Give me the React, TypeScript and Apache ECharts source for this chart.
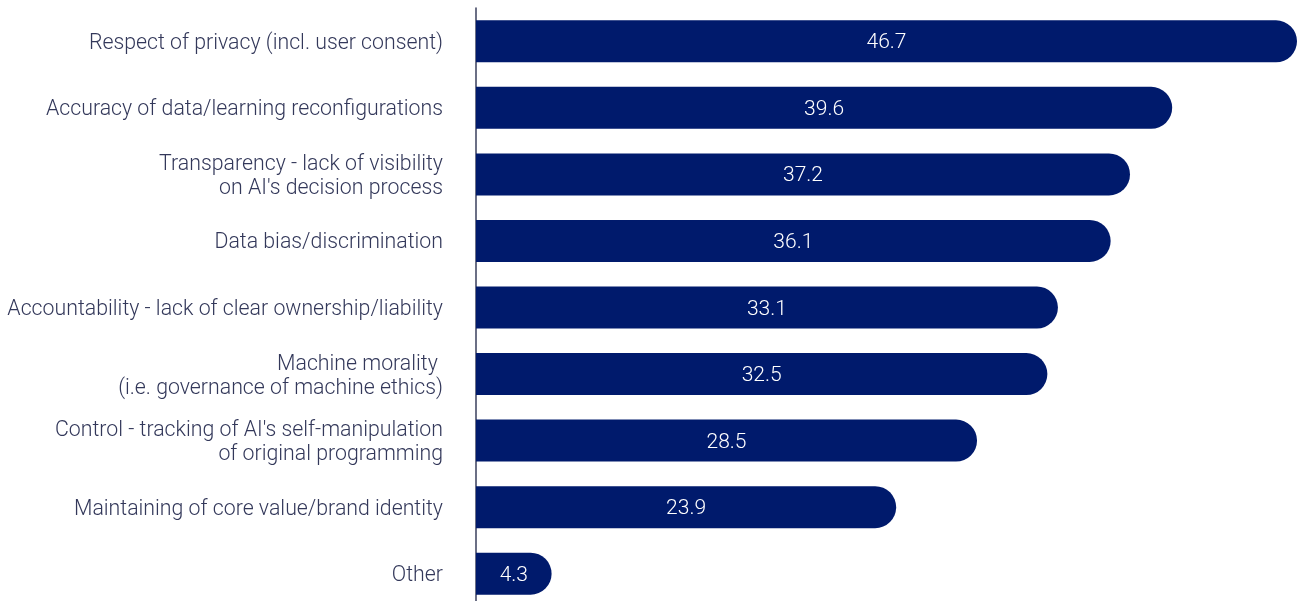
import React, { useEffect, useRef } from "react";
import * as echarts from "echarts";

const categories = [
  "Respect of privacy (incl. user consent)",
  "Accuracy of data/learning reconfigurations",
  "Transparency - lack of visibility\non AI's decision process",
  "Data bias/discrimination",
  "Accountability - lack of clear ownership/liability",
  "Machine morality \n(i.e. governance of machine ethics)",
  "Control - tracking of AI's self-manipulation\nof original programming",
  "Maintaining of core value/brand identity",
  "Other",
];
const values = [46.7, 39.6, 37.2, 36.1, 33.1, 32.5, 28.5, 23.9, 4.3];

export default function App() {
  const ref = useRef<HTMLDivElement>(null);
  useEffect(() => {
    if (!ref.current) return;
    const chart = echarts.init(ref.current, null, { renderer: "svg" });
    chart.setOption({
      animation: false,
      grid: { left: 476, right: 5, top: 8, bottom: 0 },
      xAxis: {
        type: "value",
        min: 0,
        max: 46.7,
        show: false,
      },
      yAxis: {
        type: "category",
        data: categories,
        inverse: true,
        axisLine: { show: true, lineStyle: { color: "#3a3f5c", width: 1.5 } },
        axisTick: { show: false },
        axisLabel: {
          margin: 33,
          fontFamily: "Roboto",
          fontWeight: 300,
          fontSize: 21.3,
          lineHeight: 24,
          color: "#33385a",
          align: "right",
        },
      },
      series: [
        {
          type: "bar",
          data: values,
          barWidth: 42,
          itemStyle: { color: "#001a6c", borderRadius: [0, 21, 21, 0] },
          label: {
            show: true,
            position: "inside",
            color: "#ffffff",
            fontFamily: "Roboto",
            fontWeight: 300,
            fontSize: 21,
            formatter: (p: any) => p.value.toFixed(1),
          },
        },
      ],
    });
    return () => chart.dispose();
  }, []);
  return (
    <div
      style={{
        position: "fixed",
        left: 0,
        top: 0,
        width: 1302,
        height: 601,
        overflow: "hidden",
      }}
    >
      <div ref={ref} style={{ width: 1302, height: 607 }} />
    </div>
  );
}
